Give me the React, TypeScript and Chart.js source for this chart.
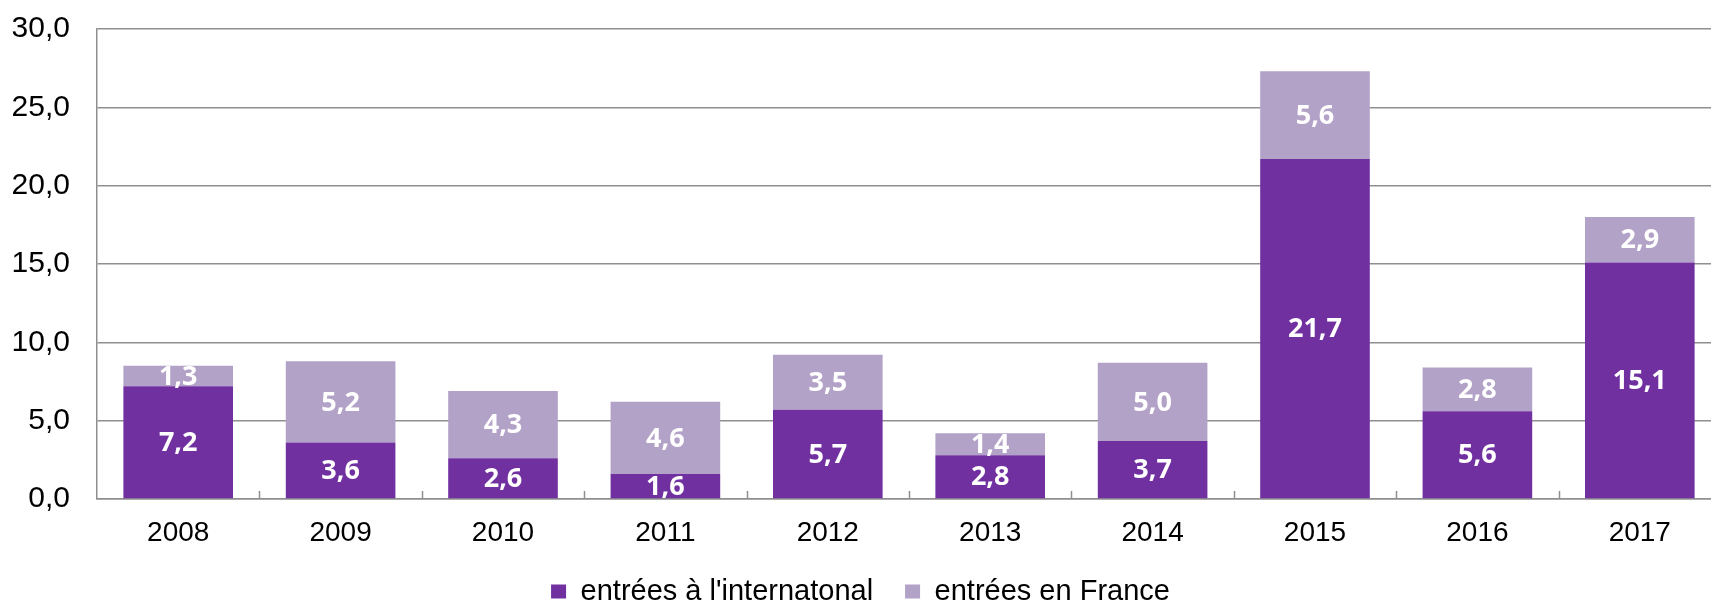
import React, { useEffect, useRef } from "react";
import { Chart, registerables } from "chart.js";

Chart.register(...registerables);

const years = ["2008", "2009", "2010", "2011", "2012", "2013", "2014", "2015", "2016", "2017"];
const international = [7.2, 3.6, 2.6, 1.6, 5.7, 2.8, 3.7, 21.7, 5.6, 15.1];
const france = [1.3, 5.2, 4.3, 4.6, 3.5, 1.4, 5.0, 5.6, 2.8, 2.9];
const yTicks = [0, 5, 10, 15, 20, 25, 30];
const seriesNames = ["entrées à l'internatonal", "entrées en France"];

const DARK = "#7030A0";
const LIGHT = "#B3A2C7";
const GRID = "#8f8f8f";

const fmt = (v: number) => v.toFixed(1).replace(".", ",");

const labelPlugin = {
  id: "segLabels",
  afterDatasetsDraw(chart: any) {
    const ctx = chart.ctx;
    ctx.save();
    ctx.fillStyle = "#ffffff";
    ctx.font = "bold 27px 'Open Sans'";
    ctx.textAlign = "center";
    ctx.textBaseline = "middle";
    chart.data.datasets.forEach((ds: any, di: number) => {
      const meta = chart.getDatasetMeta(di);
      meta.data.forEach((el: any, i: number) => {
        const v = ds.data[i];
        const y = (el.y + el.base) / 2;
        ctx.fillText(fmt(v), el.x, y + 1);
      });
    });
    ctx.restore();
  },
};

const catTickPlugin = {
  id: "catTicks",
  afterDraw(chart: any) {
    const xs = chart.scales.x;
    const ctx = chart.ctx;
    const n = chart.data.labels.length;
    const step = n > 1 ? xs.getPixelForValue(1) - xs.getPixelForValue(0) : xs.width;
    const bottom = chart.chartArea.bottom;
    ctx.save();
    ctx.strokeStyle = GRID;
    ctx.lineWidth = 1.5;
    for (let i = 1; i < n; i++) {
      const x = Math.round(xs.getPixelForValue(i) - step / 2) + 0.5;
      ctx.beginPath();
      ctx.moveTo(x, bottom);
      ctx.lineTo(x, bottom - 8);
      ctx.stroke();
    }
    ctx.restore();
  },
};

export default function App() {
  const ref = useRef<HTMLCanvasElement | null>(null);
  useEffect(() => {
    if (!ref.current) return;
    const chart = new Chart(ref.current, {
      type: "bar",
      data: {
        labels: years,
        datasets: [
          { label: seriesNames[0], data: international, backgroundColor: DARK, borderWidth: 0 },
          { label: seriesNames[1], data: france, backgroundColor: LIGHT, borderWidth: 0 },
        ],
      },
      options: {
        animation: false,
        responsive: false,
        devicePixelRatio: 1,
        layout: { padding: { top: 29, right: 0, bottom: 0, left: 0 } },
        datasets: { bar: { barPercentage: 0.675, categoryPercentage: 1 } },
        scales: {
          x: {
            stacked: true,
            grid: { display: false, drawTicks: false },
            border: { display: true, color: GRID, width: 1.5 },
            ticks: { color: "#000", font: { family: "'Liberation Sans', Arial", size: 28 }, padding: 17 },
            afterFit: (s: any) => { s.height = 46; },
          },
          y: {
            stacked: true,
            min: 0,
            max: 30,
            afterBuildTicks: (s: any) => { s.ticks = yTicks.map((v) => ({ value: v })); },
            grid: { color: GRID, lineWidth: 1.5, drawTicks: false },
            border: { display: true, color: GRID, width: 1.5 },
            ticks: {
              color: "#000",
              font: { family: "'Liberation Sans', Arial", size: 30 },
              padding: 27,
              callback: (v: any) => fmt(Number(v)),
            },
            afterFit: (s: any) => { s.width = 97; s.paddingTop = 0; s.paddingBottom = 0; },
          },
        },
        plugins: {
          title: { display: false },
          tooltip: { enabled: false },
          legend: {
            position: "bottom",
            labels: {
              color: "#000",
              font: { family: "'Liberation Sans', Arial", size: 29, lineHeight: 1 },
              boxWidth: 15,
              boxHeight: 14,
              padding: 32,
            },
          },
        },
      },
      plugins: [labelPlugin, catTickPlugin],
    } as any);
    return () => chart.destroy();
  }, []);
  return (
    <div style={{ position: "fixed", left: 0, top: 0, width: 1711, height: 602, overflow: "hidden", background: "#fff" }}>
      <canvas ref={ref} width={1721} height={616} style={{ display: "block", width: 1721, height: 616 }} />
    </div>
  );
}
